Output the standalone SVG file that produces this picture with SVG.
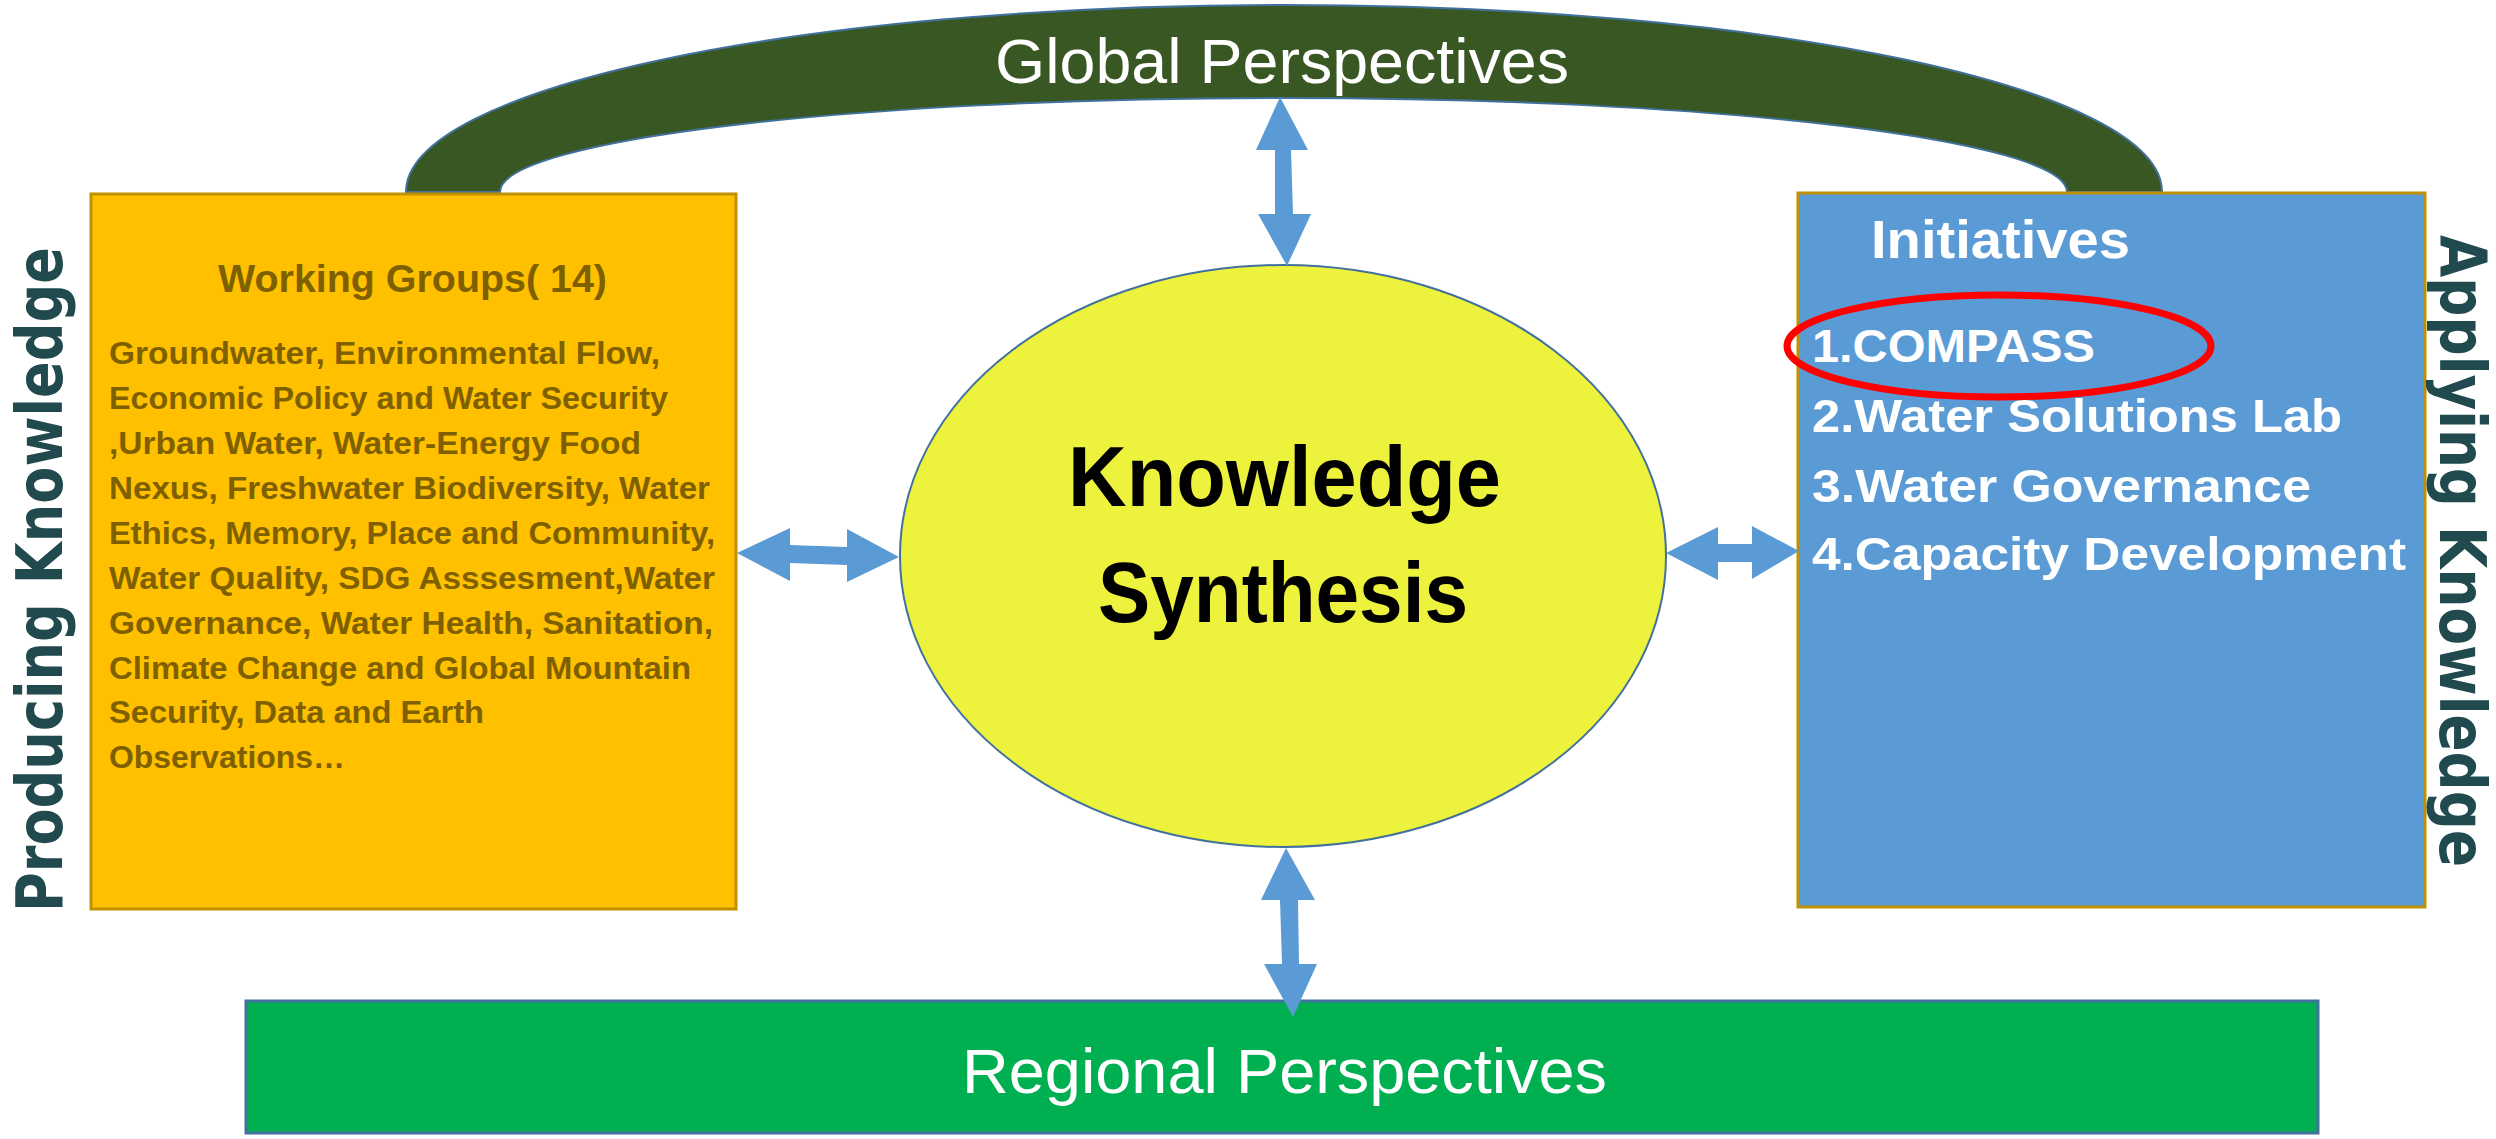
<svg xmlns="http://www.w3.org/2000/svg" width="2496" height="1139" viewBox="0 0 2496 1139">
  <style>
    .side { font-family: "DejaVu Sans", "Liberation Sans", sans-serif; font-weight: bold; font-size: 64px; fill: #204A4E; }
    .wg { font-family: "Liberation Sans", Arial, sans-serif; font-weight: bold; fill: #7F6000; }
    .wg-body { font-size: 32px; }
    .init { font-family: "Liberation Sans", Arial, sans-serif; font-weight: bold; fill: #FFFFFF; }
    .persp { font-family: "Liberation Sans", Arial, sans-serif; fill: #FFFFFF; font-size: 63px; }
    .arrow { fill: #5B9BD5; }
  </style>

  <rect width="2496" height="1139" fill="#FFFFFF"/>

  <!-- Global perspectives arch -->
  <g id="global-perspectives">
    <path d="M406,192 C406,88 799,5 1284,5 C1769,5 2162,88 2162,192 L2067,192 C2067,140 1716,98 1284,98 C851,98 500,140 500,192 Z"
          fill="#385723" stroke="#41719C" stroke-width="2"/>
    <text class="persp" x="995" y="83" textLength="574" lengthAdjust="spacingAndGlyphs">Global Perspectives</text>
  </g>

  <!-- Working groups box -->
  <g id="working-groups">
    <rect x="91" y="194" width="645" height="715" fill="#FFC000" stroke="#BF9000" stroke-width="3"/>
    <text class="wg" x="218" y="292" font-size="38" textLength="389" lengthAdjust="spacingAndGlyphs">Working Groups( 14)</text>
    <g class="wg wg-body">
      <text x="109" y="364" textLength="551" lengthAdjust="spacingAndGlyphs">Groundwater, Environmental Flow,</text>
      <text x="109" y="409" textLength="559" lengthAdjust="spacingAndGlyphs">Economic Policy and Water Security</text>
      <text x="109" y="454" textLength="532" lengthAdjust="spacingAndGlyphs">,Urban Water, Water-Energy Food</text>
      <text x="109" y="499" textLength="601" lengthAdjust="spacingAndGlyphs">Nexus, Freshwater Biodiversity, Water</text>
      <text x="109" y="544" textLength="606" lengthAdjust="spacingAndGlyphs">Ethics, Memory, Place and Community,</text>
      <text x="109" y="589" textLength="606" lengthAdjust="spacingAndGlyphs">Water Quality, SDG Asssesment,Water</text>
      <text x="109" y="634" textLength="604" lengthAdjust="spacingAndGlyphs">Governance, Water Health, Sanitation,</text>
      <text x="109" y="679" textLength="582" lengthAdjust="spacingAndGlyphs">Climate Change and Global Mountain</text>
      <text x="109" y="723" textLength="375" lengthAdjust="spacingAndGlyphs">Security, Data and Earth</text>
      <text x="109" y="768" textLength="236" lengthAdjust="spacingAndGlyphs">Observations…</text>
    </g>
  </g>

  <!-- Initiatives box -->
  <g id="initiatives">
    <rect x="1798" y="193" width="627" height="714" fill="#5B9BD5" stroke="#BF9000" stroke-width="3"/>
    <text class="init" x="1871" y="258" font-size="54" textLength="259" lengthAdjust="spacingAndGlyphs">Initiatives</text>
    <text class="init" x="1812" y="362" font-size="46" textLength="283" lengthAdjust="spacingAndGlyphs">1.COMPASS</text>
    <text class="init" x="1812" y="432" font-size="46" textLength="530" lengthAdjust="spacingAndGlyphs">2.Water Solutions Lab</text>
    <text class="init" x="1812" y="502" font-size="46" textLength="499" lengthAdjust="spacingAndGlyphs">3.Water Governance</text>
    <text class="init" x="1812" y="570" font-size="46" textLength="594" lengthAdjust="spacingAndGlyphs">4.Capacity Development</text>
    <ellipse cx="1999" cy="346" rx="212" ry="51" fill="none" stroke="#FF0000" stroke-width="7"/>
  </g>

  <!-- Central synthesis ellipse -->
  <g id="knowledge-synthesis">
    <ellipse cx="1283" cy="556" rx="383" ry="291" fill="#EDF23D" stroke="#41719C" stroke-width="2"/>
    <text x="1068" y="506" font-family="Liberation Sans, Arial, sans-serif" font-weight="bold" font-size="85" fill="#000000" textLength="433" lengthAdjust="spacingAndGlyphs">Knowledge</text>
    <text x="1098" y="622" font-family="Liberation Sans, Arial, sans-serif" font-weight="bold" font-size="85" fill="#000000" textLength="370" lengthAdjust="spacingAndGlyphs">Synthesis</text>
  </g>

  <!-- Regional perspectives bar -->
  <g id="regional-perspectives">
    <rect x="246" y="1001" width="2072" height="132" fill="#00B050" stroke="#41719C" stroke-width="3"/>
    <text class="persp" x="962" y="1093" font-size="64" textLength="645" lengthAdjust="spacingAndGlyphs">Regional Perspectives</text>
  </g>

  <!-- Side labels -->
  <g id="producing-knowledge">
    <text class="side" transform="translate(62,912) rotate(-90)" textLength="665" lengthAdjust="spacingAndGlyphs">Producing Knowledge</text>
  </g>
  <g id="applying-knowledge">
    <text class="side" transform="translate(2440,235) rotate(90)" textLength="632" lengthAdjust="spacingAndGlyphs">Applying Knowledge</text>
  </g>

  <!-- Double-headed connectors -->
  <g id="connectors">
    <polygon class="arrow" points="1280,97 1308,150 1291,150 1293,214 1311,214 1287,266 1258,214 1275,214 1275,150 1256,150"/>
    <polygon class="arrow" points="1286,848 1315,900 1298,900 1299,964 1317,964 1293,1017 1264,964 1282,964 1280,900 1261,900"/>
    <polygon class="arrow" points="737,553 790,528 790,545 847,547 847,529 899,557 847,582 847,565 790,563 790,581"/>
    <polygon class="arrow" points="1666,553 1718,527 1718,544 1752,544 1752,526 1799,551 1752,579 1752,562 1718,562 1718,580"/>
  </g>
</svg>
